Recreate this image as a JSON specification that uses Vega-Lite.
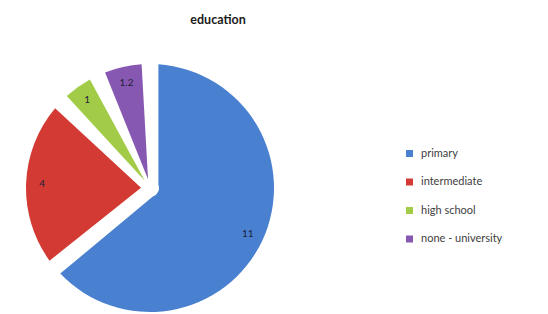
{
  "$schema": "https://vega.github.io/schema/vega-lite/v6.json",
  "autosize": {"type": "none"},
  "width": 300,
  "height": 252,
  "padding": {"left": 0, "top": 62, "right": 248, "bottom": 0},
  "background": "white",
  "title": {"text": "education", "fontSize": 12.5, "font": "Lato", "fontWeight": "bold", "color": "#1a1a1a", "dx": 68, "offset": 36, "anchor": "middle"},
  "data": {"values": [
    {"level": "primary", "count": 11, "rank": 1},
    {"level": "intermediate", "count": 4, "rank": 2},
    {"level": "high school", "count": 1, "rank": 3},
    {"level": "none - university", "count": 1.2, "rank": 4}
  ]},
  "encoding": {
    "theta": {"field": "count", "type": "quantitative", "stack": true},
    "order": {"field": "rank", "type": "quantitative"},
    "color": {
      "field": "level", "type": "nominal", "title": null,
      "scale": {"domain": ["primary", "intermediate", "high school", "none - university"], "range": ["#4a80d0", "#d23a33", "#a2cc48", "#8658b2"]},
      "legend": {"orient": "none", "legendX": 404, "legendY": 86, "symbolType": "square", "symbolSize": 49, "symbolStrokeWidth": 0, "labelFontSize": 11, "labelFont": "Lato", "labelColor": "#404040", "rowPadding": 16.5, "labelOffset": 6, "padding": 0}
    }
  },
  "layer": [
    {"mark": {"type": "arc", "outerRadius": 124, "innerRadius": 9, "padAngle": 0.135}},
    {"mark": {"type": "text", "radius": 108, "fontSize": 10, "font": "Lato"},
     "encoding": {"text": {"field": "count", "type": "quantitative"}, "color": {"value": "#1e1e3a"}}}
  ],
  "config": {"view": {"stroke": null}}
}
